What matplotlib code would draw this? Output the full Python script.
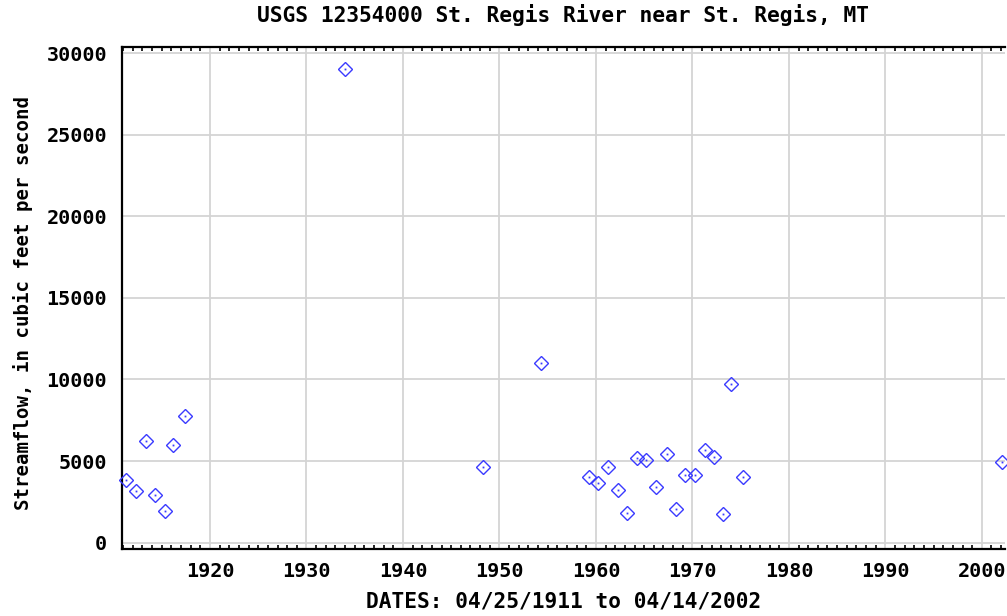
import numpy as np
import matplotlib
matplotlib.use("Agg")
from matplotlib import pyplot as plt
from matplotlib.ticker import MultipleLocator

# peak flow dates (decimal years) and discharge (cfs)
years = [1911.3, 1912.3, 1913.4, 1914.3, 1915.3, 1916.2, 1917.4,
         1933.95, 1948.3, 1954.35,
         1959.25, 1960.2, 1961.3, 1962.25, 1963.2, 1964.25, 1965.15,
         1966.2, 1967.35, 1968.25, 1969.2, 1970.25, 1971.3, 1972.25,
         1973.2, 1974.0, 1975.25, 2002.1]
flows = [3830, 3150, 6250, 2930, 1950, 5970, 7770,
         29000, 4660, 11000,
         4050, 3640, 4660, 3230, 1840, 5170, 5070,
         3430, 5460, 2050, 4130, 4130, 5680, 5250,
         1740, 9690, 4050, 4930]

title = "USGS 12354000 St. Regis River near St. Regis, MT"
xlabel = "DATES: 04/25/1911 to 04/14/2002"
ylabel = "Streamflow, in cubic feet per second"
xticks = [1920, 1930, 1940, 1950, 1960, 1970, 1980, 1990, 2000]
yticks = [0, 5000, 10000, 15000, 20000, 25000, 30000]

font = dict(family="DejaVu Sans Mono", weight="bold")

fig = plt.figure(figsize=(10.07, 6.16), dpi=100)
ax = fig.add_axes([122 / 1007, 67 / 616, 883 / 1007, 502.5 / 616])

blue = "#3a3aff"
ax.plot(years, flows, linestyle="none", marker="D", markersize=7.5,
        markerfacecolor="none", markeredgecolor=blue, markeredgewidth=1.0,
        zorder=3, clip_on=False)
ax.plot(years, flows, linestyle="none", marker="s", markersize=1.3,
        color=blue, markeredgewidth=0, zorder=3, clip_on=False)

ax.set_xlim(1910.88, 2002.4)
ax.set_ylim(-390, 30400)
ax.set_xticks(xticks)
ax.set_yticks(yticks)
ax.xaxis.set_minor_locator(MultipleLocator(1))

ax.grid(True, which="major", color="#d4d4d4", linewidth=1.3)
ax.set_axisbelow(True)
ax.tick_params(axis="both", which="major", length=0, labelsize=14.5)
ax.tick_params(axis="x", which="major", pad=9.7)
ax.tick_params(axis="y", which="major", pad=10.8)
ax.tick_params(axis="x", which="minor", direction="in", length=3,
               width=1.2, top=True, bottom=True)
for lab in ax.get_xticklabels() + ax.get_yticklabels():
    lab.set_fontfamily("DejaVu Sans Mono")
    lab.set_fontweight("bold")

for side in ["left", "bottom", "top"]:
    ax.spines[side].set_linewidth(1.6)
ax.spines["right"].set_visible(False)

fig.text(563 / 1007, 1 - 15 / 616, title, fontsize=15.3,
         ha="center", va="center", **font)
ax.set_xlabel(xlabel, fontsize=15.2, **font)
ax.xaxis.set_label_coords(0.5, -0.085)
ax.set_ylabel(ylabel, fontsize=13.7, **font)
ax.yaxis.set_label_coords(-0.1006, 0.49)

fig.savefig("out.png", dpi=100)
